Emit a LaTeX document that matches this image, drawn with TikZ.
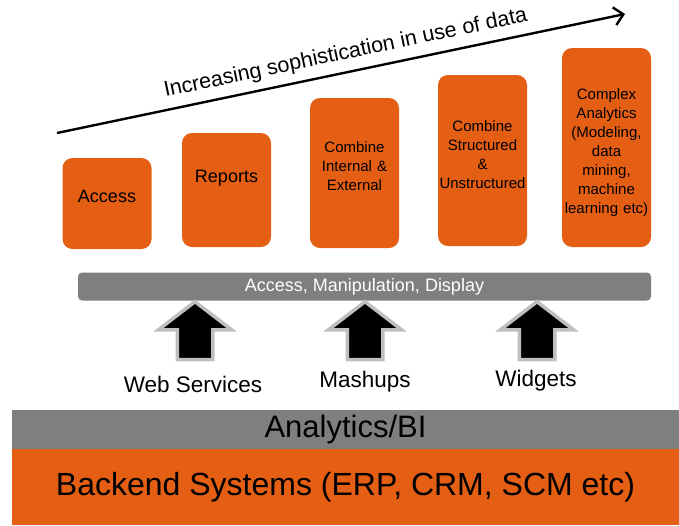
\documentclass[tikz,border=0pt]{standalone}
\usepackage{fontspec}
\setmainfont{Liberation Sans}
\usetikzlibrary{arrows.meta,shapes.arrows}
\definecolor{orangeBI}{RGB}{228,94,20}
\definecolor{grayBI}{RGB}{127,127,127}
\begin{document}
\begin{tikzpicture}[x=1pt, y=-1pt]

\tikzstyle{stage}=[rectangle, rounded corners=10pt, fill=orangeBI, minimum width=89pt, inner sep=0pt]
\tikzstyle{stagetext}=[text width=92pt, align=center, font=\fontsize{15}{19}\selectfont, inner sep=0pt]
\tikzstyle{uparrow}=[single arrow, rotate=90, fill=black, draw=black!25, line width=3.5pt, minimum height=58pt, inner xsep=0pt, inner ysep=16pt, single arrow head extend=19pt, single arrow tip angle=105]
\tikzstyle{tool}=[font=\fontsize{22.5}{24}\selectfont]
\tikzstyle{layer}=[rectangle, minimum width=667pt, inner sep=0pt]

\useasboundingbox (0,0) rectangle (679,525);

% stages
\node (access) [stage, minimum height=91pt]  at (107,203.5) {};
\node (reports) [stage, minimum height=114pt] at (226.5,190) {};
\node (internal) [stage, minimum height=150pt] at (354.5,173) {};
\node (structured) [stage, minimum height=171pt] at (482.5,160.5) {};
\node (complex) [stage, minimum height=199pt] at (606.5,147.5) {};

\node (accesstext) [stagetext, font=\fontsize{18}{19}\selectfont] at ([yshift=7pt]access.center) {Access};
\node (reportstext) [stagetext, font=\fontsize{18}{19}\selectfont] at ([yshift=12pt]reports.center) {Reports};
\node (internaltext) [stagetext] at ([yshift=7pt]internal.center) {Combine\\Internal \&\\External};
\node (structuredtext) [stagetext] at ([yshift=6pt]structured.center) {Combine\\Structured\\\&\\Unstructured};
\node (complextext) [stagetext] at ([yshift=-5pt]complex.center) {Complex\\Analytics\\(Modeling,\\data\\mining,\\machine\\learning etc)};

% trend
\coordinate (trendstart) at (57,133);
\coordinate (trendend) at (625,14);
\draw [line width=2.4pt, -{Straight Barb[length=9pt,width=18pt,line width=2.4pt]}] (trendstart) -- node [pos=0.515, sloped, above=4pt, font=\fontsize{21.5}{23}\selectfont] {Increasing sophistication in use of data} (trendend);

% display bar
\node (display) [rectangle, rounded corners=4pt, fill=grayBI, minimum width=573pt, minimum height=28pt, text=white, font=\fontsize{18}{20}\selectfont] at (364.5,286.5) {Access, Manipulation, Display};

% tools
\node (webarrow) [uparrow] at (195,337.5) {};
\node (masharrow) [uparrow] at (365,337.5) {};
\node (widgarrow) [uparrow] at (537,337.5) {};

\node (web) [tool] at (193,384) {Web Services};
\node (mashups) [tool] at (365,382) {Mashups};
\node (widgets) [tool] at (536,381) {Widgets};

% layers
\node (analytics) [layer, fill=grayBI, minimum height=39pt, font=\fontsize{31}{33}\selectfont] at (345.5,429.5) {Analytics/BI};
\node (backend) [layer, fill=orangeBI, minimum height=76pt, font=\fontsize{32}{35}\selectfont] at (345.5,487) {Backend Systems (ERP, CRM, SCM etc)};

\end{tikzpicture}
\end{document}
